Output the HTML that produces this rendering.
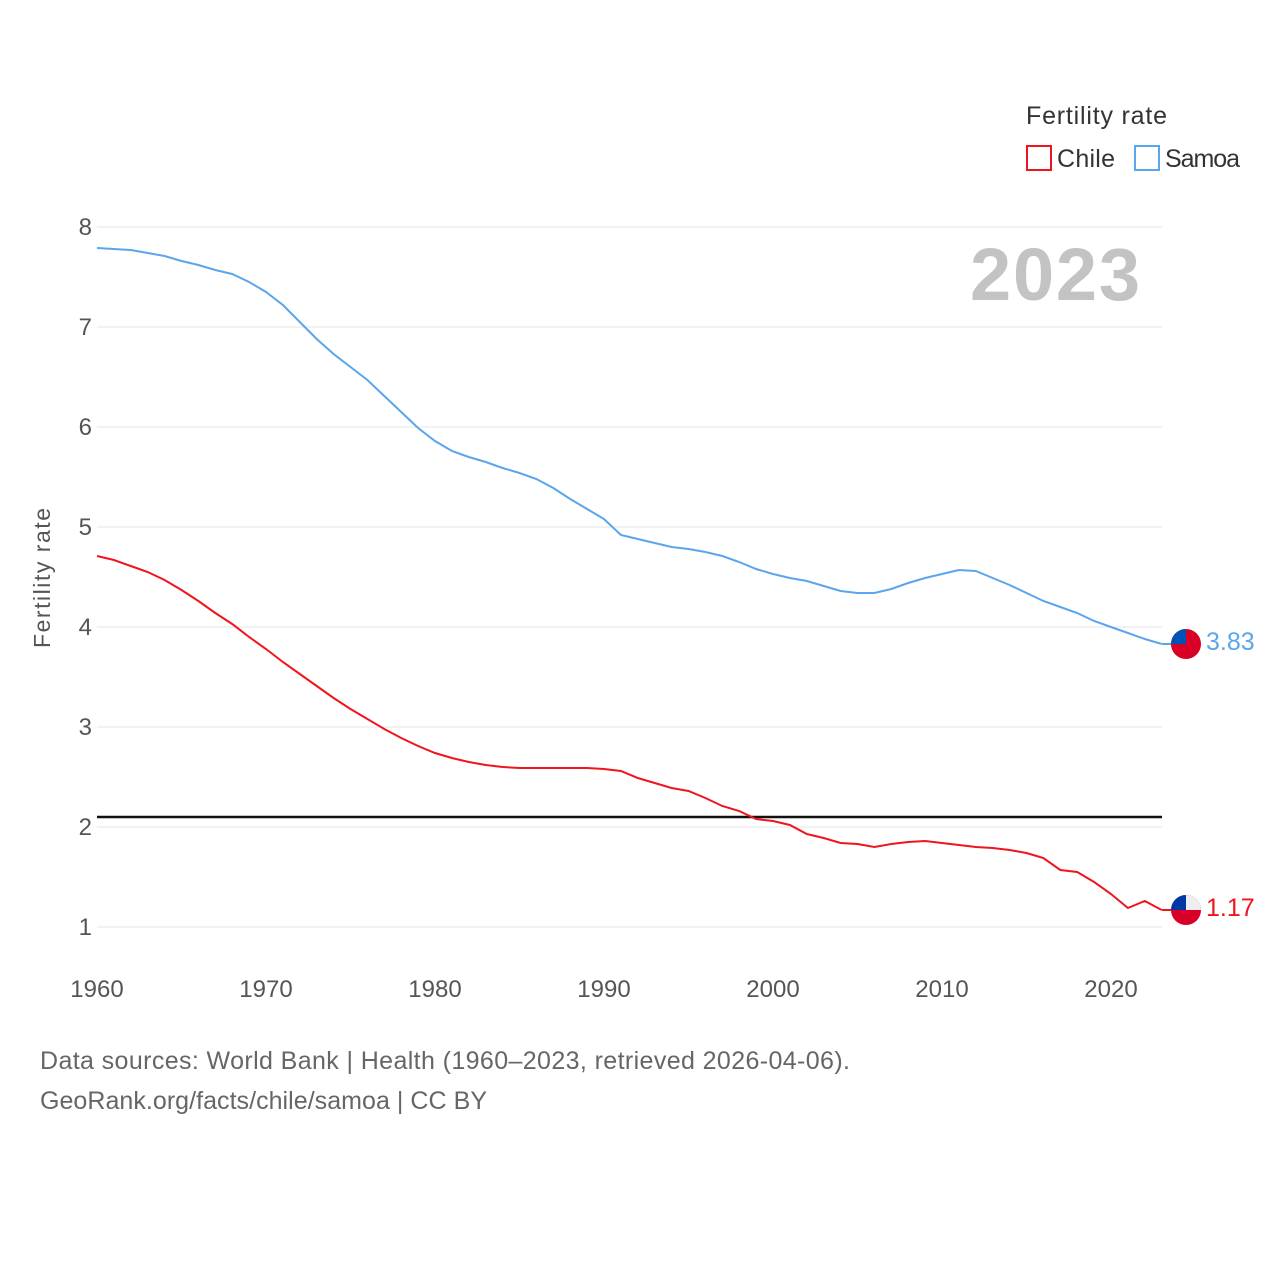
<!DOCTYPE html>
<html><head><meta charset="utf-8"><style>
body{margin:0;background:#fff;font-family:"Liberation Sans",sans-serif;}
svg text{font-family:"Liberation Sans",sans-serif;}
</style></head><body>
<svg width="1280" height="1280" viewBox="0 0 1280 1280" id="chart">
<text x="1026" y="124" font-size="25" fill="#333" textLength="141">Fertility rate</text>
<g><rect x="1027" y="146" width="24" height="24" fill="none" stroke="#f0141e" stroke-width="2"/><text x="1057" y="167" font-size="25" fill="#333" textLength="58">Chile</text></g>
<g><rect x="1135" y="146" width="24" height="24" fill="none" stroke="#5aa5eb" stroke-width="2"/><text x="1165" y="167" font-size="25" fill="#333" textLength="75">Samoa</text></g>
<text x="970" y="300" font-size="74" font-weight="bold" fill="#c3c3c3" textLength="170">2023</text>
<text transform="translate(50,578) rotate(-90)" font-size="23" fill="#555" text-anchor="middle" textLength="140">Fertility rate</text>
<g id="grid"></g><g id="lines"></g>
<text x="40" y="1069" font-size="25" fill="#666" textLength="810">Data sources: World Bank | Health (1960–2023, retrieved 2026-04-06).</text>
<text x="40" y="1109" font-size="25" fill="#666" textLength="447">GeoRank.org/facts/chile/samoa | CC BY</text>
</svg>
<script>
const years=[];for(let y=1960;y<=2023;y++)years.push(y);
const samoa=[7.79,7.78,7.77,7.74,7.71,7.66,7.62,7.57,7.53,7.45,7.35,7.22,7.05,6.88,6.73,6.60,6.47,6.31,6.15,5.99,5.86,5.76,5.70,5.65,5.59,5.54,5.48,5.39,5.28,5.18,5.08,4.92,4.88,4.84,4.80,4.78,4.75,4.71,4.65,4.58,4.53,4.49,4.46,4.41,4.36,4.34,4.34,4.38,4.44,4.49,4.53,4.57,4.56,4.49,4.42,4.34,4.26,4.20,4.14,4.06,4.00,3.94,3.88,3.83];
const chile=[4.71,4.67,4.61,4.55,4.47,4.37,4.26,4.14,4.03,3.90,3.78,3.65,3.53,3.41,3.29,3.18,3.08,2.98,2.89,2.81,2.74,2.69,2.65,2.62,2.60,2.59,2.59,2.59,2.59,2.59,2.58,2.56,2.49,2.44,2.39,2.36,2.29,2.21,2.16,2.08,2.06,2.02,1.93,1.89,1.84,1.83,1.80,1.83,1.85,1.86,1.84,1.82,1.80,1.79,1.77,1.74,1.69,1.57,1.55,1.45,1.33,1.19,1.26,1.17];
const yTicks=[1,2,3,4,5,6,7,8];
const xTicks=[1960,1970,1980,1990,2000,2010,2020];
const replacement=2.1;
const X=y=>97+(y-1960)*16.9, Y=v=>227+(8-v)*100;
const NS="http://www.w3.org/2000/svg";
const g=document.getElementById('grid'), L=document.getElementById('lines');
function mk(tag,attrs,parent){const e=document.createElementNS(NS,tag);for(const k in attrs)e.setAttribute(k,attrs[k]);parent.appendChild(e);return e;}
yTicks.forEach(t=>{
 const l=mk('line',{x1:97,x2:1162,y1:Y(t),y2:Y(t),stroke:'#e6e6e6','stroke-width':1},g);
 
 
 const tx=mk('text',{x:92,y:Y(t)+8,'font-size':24,fill:'#555','text-anchor':'end'},g);tx.textContent=t;
 
 
});
xTicks.forEach(t=>{
 const tx=mk('text',{x:X(t),y:997,'font-size':24,fill:'#555','text-anchor':'middle'},g);tx.textContent=t;
 
 
});
const rl=mk('line',{x1:97,x2:1162,y1:Y(replacement),y2:Y(replacement),stroke:'#111','stroke-width':2.5},L);


function series(vals,color,name){
 const p=mk('polyline',{points:vals.map((v,i)=>X(years[i])+','+Y(v)).join(' '),fill:'none',stroke:color,'stroke-width':2},L);
 
 
 const last=vals[vals.length-1], cy=Y(last);
 const f=mk('g',{},L);
 
 
 mk('line',{x1:1162,x2:1172,y1:cy,y2:cy,stroke:color,'stroke-width':2},f);
 mk('circle',{cx:1186,cy:cy,r:15,fill:'#d80027'},f);
 if(name==='chile'){mk('path',{d:`M1171 ${cy} A15 15 0 0 1 1201 ${cy} Z`,fill:'#eee'},f);mk('path',{d:`M1171 ${cy} A15 15 0 0 1 1186 ${cy-15} L1186 ${cy} Z`,fill:'#0039a6'},f);}
 else{mk('path',{d:`M1171 ${cy} A15 15 0 0 1 1186 ${cy-15} L1186 ${cy} Z`,fill:'#0052b4'},f);}
 const t=mk('text',{x:1206,y:cy+6,'font-size':25,fill:color},L);t.textContent=last.toFixed(2);
 
 
}
series(samoa,'#5aa5eb','samoa');
series(chile,'#f0141e','chile');
</script>
</body></html>
